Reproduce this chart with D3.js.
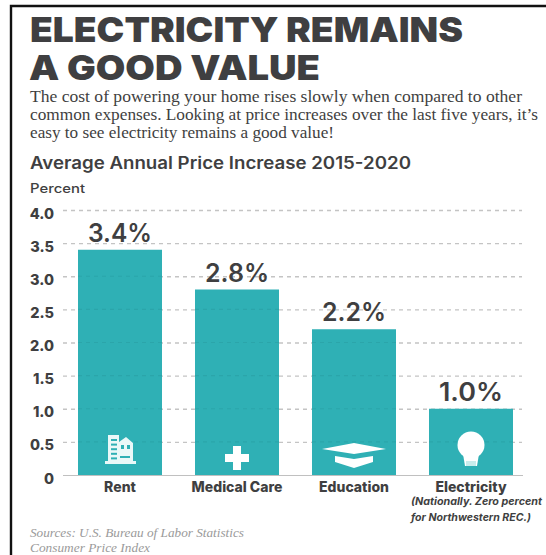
<!DOCTYPE html>
<html><head><meta charset="utf-8">
<script src="https://cdn.jsdelivr.net/npm/d3@7"></script>
<style>html,body{margin:0;padding:0;background:#fff}svg{display:block}text{fill:#3f3f41}</style>
</head><body><div id="chart"></div>
<script>
const categories=["Rent","Medical Care","Education","Electricity"];
const values=[3.4,2.8,2.2,1.0];
const valueLabels=["3.4%","2.8%","2.2%","1.0%"];
const tickValues=[0,0.5,1,1.5,2,2.5,3,3.5,4];
const tickLabels=["0","0.5","1.0","1.5","2.0","2.5","3.0","3.5","4.0"];
const titleLines=["ELECTRICITY REMAINS","A GOOD VALUE"];
const introLines=["The cost of powering your home rises slowly when compared to other","common expenses. Looking at price increases over the last five years, it\u2019s","easy to see electricity remains a good value!"];
const subtitle="Average Annual Price Increase 2015-2020";
const axisTitle="Percent";
const noteLines=["(Nationally. Zero percent","for Northwestern REC.)"];
const sourceLines=["Sources: U.S. Bureau of Labor Statistics","Consumer Price Index"];

const W=546,H=555,SANS="Inter, 'Open Sans', sans-serif",SERIF="'Liberation Serif',serif";
const svg=d3.select("#chart").append("svg").attr("width",W).attr("height",H);
svg.append("path").attr("d","M11,555V6H546").attr("fill","none").attr("stroke","#111").attr("stroke-width",2.4);

const y=d3.scaleLinear().domain([0,4]).range([475,210]);
const x=d3.scaleBand().domain(categories).range([78,513]).paddingInner(0.282).paddingOuter(0);

function put(t,px,py,size,weight,len,extra={}){
  const e=svg.append("text").attr("x",px).attr("y",py).text(t)
    .style("font-family",extra.family||SANS).style("font-size",size+"px").style("font-weight",weight);
  if(len)e.attr("textLength",len).attr("lengthAdjust","spacingAndGlyphs");
  if(extra.anchor)e.attr("text-anchor",extra.anchor);
  if(extra.italic)e.style("font-style","italic");
  if(extra.fill)e.style("fill",extra.fill);
  return e;
}
put(titleLines[0],30,42,34,900,433);
put(titleLines[1],29,80,34,900,291);
put(introLines[0],30,102,16,400,492,{family:SERIF});
put(introLines[1],30,120,16,400,508,{family:SERIF});
put(introLines[2],30,138,16,400,304,{family:SERIF});
put(subtitle,30,169,17,600,381);
put(axisTitle,30,193,12.5,500,55);

// grid
const grid=d3.axisLeft(y).tickValues(tickValues.slice(1)).tickSize(-(522-63)).tickFormat("");
svg.append("g").attr("transform","translate(63,0)").call(grid).call(g=>{
  g.select(".domain").remove();
  g.selectAll("line").attr("stroke","#c4c4c4").attr("stroke-width",1.4).attr("stroke-dasharray","4 4");
});
svg.append("line").attr("x1",63).attr("x2",523).attr("y1",y(0)+.5).attr("y2",y(0)+.5).attr("stroke","#c0c0c0").attr("stroke-width",1);

// bars
svg.selectAll("rect.bar").data(categories).join("rect").attr("class","bar")
  .attr("x",d=>x(d)).attr("width",x.bandwidth())
  .attr("y",(d,i)=>y(values[i])).attr("height",(d,i)=>y(0)-y(values[i]))
  .attr("fill","#2fb0b5");
const g2=svg.append("g");
tickValues.slice(1).forEach(v=>categories.forEach((c,i)=>{ if(v<values[i]) g2.append("line")
  .attr("x1",x(c)).attr("x2",x(c)+x.bandwidth()).attr("y1",y(v)).attr("y2",y(v))
  .attr("stroke","#2ba5aa").attr("stroke-width",1.2).attr("stroke-dasharray","4 4");}));

categories.forEach((c,i)=>put(valueLabels[i],x(c)+x.bandwidth()/2,y(values[i])-8,25,600,64,{anchor:"middle"}));
tickValues.forEach((v,i)=>put(tickLabels[i],54,y(v)+8.5,14.5,800,null,{anchor:"end"}));
categories.forEach(c=>put(c,x(c)+x.bandwidth()/2,492,14,800,null,{anchor:"middle"}));
put(noteLines[0],411,505,10.5,700,131,{italic:true});
put(noteLines[1],411,521,10.5,700,120,{italic:true});
put(sourceLines[0],30,537,11.5,400,214,{family:SERIF,italic:true,fill:"#9a9a9a"});
put(sourceLines[1],30,552,11.5,400,120,{family:SERIF,italic:true,fill:"#9a9a9a"});

// icons
const ic=svg.append("g").attr("fill","#fff");
const cx=categories.map(c=>x(c)+x.bandwidth()/2), b=y(0);
ic.append("path").attr("d",`M${cx[0]-15},${b-11}h31v-3h-3v-18l-7,-6l-7,5v-7h-11v26h-3z`).attr("fill","#eaf8f8");
[0,1,2,3,4].forEach(k=>ic.append("rect").attr("x",cx[0]-9).attr("y",b-36+k*4.6).attr("width",6).attr("height",2).attr("fill","#2fb0b5"));
ic.append("rect").attr("x",cx[0]).attr("y",b-19).attr("width",10).attr("height",2).attr("fill","#2fb0b5");
ic.append("rect").attr("x",cx[0]+1).attr("y",b-30).attr("width",3).attr("height",4).attr("fill","#2fb0b5");
ic.append("rect").attr("x",cx[0]+7).attr("y",b-30).attr("width",3).attr("height",4).attr("fill","#2fb0b5");
ic.append("path").attr("d",`M${cx[1]-4},${b-29}h8v8h8v8h-8v8h-8v-8h-8v-8h8z`);
ic.append("path").attr("d",`M${cx[2]-32},${b-26}L${cx[2]},${b-32}L${cx[2]+32},${b-26}L${cx[2]},${b-21}Z`);
ic.append("path").attr("d",`M${cx[2]-19},${b-19}L${cx[2]},${b-16}L${cx[2]+19},${b-19}V${b-13}L${cx[2]},${b-7}L${cx[2]-19},${b-13}Z`);
ic.append("circle").attr("cx",cx[3]).attr("cy",b-30).attr("r",13.5);
ic.append("path").attr("d",`M${cx[3]-8},${b-21}H${cx[3]+8}L${cx[3]+6},${b-9}H${cx[3]-6}Z`);
ic.append("rect").attr("x",cx[3]-5).attr("y",b-14).attr("width",10).attr("height",5).attr("fill","#c9ecec");
</script></body></html>
